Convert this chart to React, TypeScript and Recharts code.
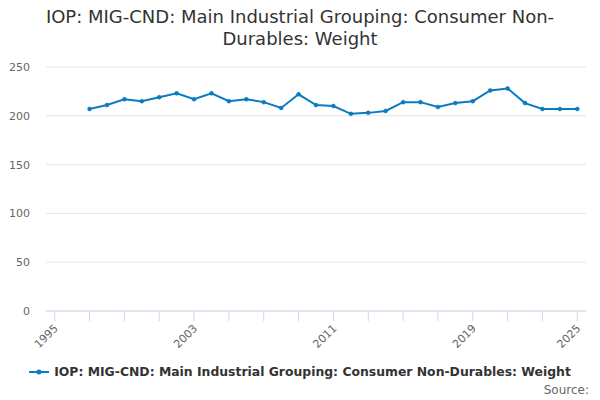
import React from 'react';
import { LineChart, Line, XAxis, YAxis, CartesianGrid } from 'recharts';

const years = [
  1997, 1998, 1999, 2000, 2001, 2002, 2003, 2004, 2005, 2006, 2007, 2008, 2009, 2010, 2011,
  2012, 2013, 2014, 2015, 2016, 2017, 2018, 2019, 2020, 2021, 2022, 2023, 2024, 2025,
];
const weights = [
  207, 211, 217, 215, 219, 223, 217, 223, 215, 217, 214, 208, 222, 211, 210,
  202, 203, 205, 214, 214, 209, 213, 215, 226, 228, 213, 207, 207, 207,
];
const xTicks = [1995, 1997, 1999, 2001, 2003, 2005, 2007, 2009, 2011, 2013, 2015, 2017, 2019, 2021, 2023, 2025];
const xLabels = [1995, 2003, 2011, 2019, 2025];
const yTicks = [0, 50, 100, 150, 200, 250];

const seriesName = 'IOP: MIG-CND: Main Industrial Grouping: Consumer Non-Durables: Weight';
const lineColor = '#0b7bc1';
const font = '"DejaVu Sans", sans-serif';

const data = years.map((year, i) => ({ year, value: weights[i] }));

const XTick = (props: any) => {
  const { x, y, payload } = props;
  return (
    <g>
      <line x1={x} y1={y - 8} x2={x} y2={y + 2} stroke="#ccd6eb" strokeWidth={1} />
      {xLabels.includes(payload.value) && (
        <text
          x={x + 4}
          y={y + 10}
          textAnchor="end"
          transform={`rotate(-45 ${x + 4} ${y + 10})`}
          fill="#666666"
          fontSize={11}
          fontFamily={font}
        >
          {payload.value}
        </text>
      )}
    </g>
  );
};

const App: React.FC = () => {
  return (
    <div style={{ position: 'absolute', left: 0, top: 0, width: 600, height: 400, background: '#fff' }}>
      <div
        style={{
          position: 'absolute',
          top: 6,
          left: 40,
          width: 520,
          textAlign: 'center',
          fontFamily: font,
          fontSize: 18,
          lineHeight: '22px',
          color: '#333333',
        }}
      >
        {seriesName.replace('Non-Durables', 'Non-\u200BDurables')}
      </div>
      <LineChart width={600} height={400} data={data} margin={{ top: 67, right: 14, bottom: 0, left: 0 }}>
        <CartesianGrid vertical={false} stroke="#e6e6e6" />
        <XAxis
          dataKey="year"
          type="number"
          domain={[1994.5, 2025.5]}
          ticks={xTicks}
          interval={0}
          axisLine={{ stroke: '#ccd6eb' }}
          tickLine={false}
          tick={<XTick />}
          height={89}
        />
        <YAxis
          domain={[0, 250]}
          ticks={yTicks}
          axisLine={false}
          tickLine={false}
          width={46}
          tick={{ fill: '#666666', fontSize: 11, fontFamily: font }}
          dx={-8}
        />
        <Line
          type="linear"
          dataKey="value"
          name={seriesName}
          stroke={lineColor}
          strokeWidth={2}
          dot={{ r: 2, fill: lineColor, stroke: lineColor, strokeWidth: 0.5 }}
          isAnimationActive={false}
        />
      </LineChart>
      <div
        style={{
          position: 'absolute',
          top: 364,
          left: 0,
          width: 600,
          display: 'flex',
          alignItems: 'center',
          justifyContent: 'center',
          fontFamily: font,
        }}
      >
        <svg width={20} height={12} style={{ marginRight: 5 }}>
          <line x1={0} y1={6} x2={20} y2={6} stroke={lineColor} strokeWidth={2} />
          <circle cx={10} cy={6} r={2.5} fill={lineColor} />
        </svg>
        <span style={{ fontSize: 12.4, fontWeight: 'bold', color: '#333333' }}>{seriesName}</span>
      </div>
      <div
        style={{
          position: 'absolute',
          right: 11,
          top: 383,
          fontFamily: font,
          fontSize: 12,
          color: '#666666',
        }}
      >
        Source:
      </div>
    </div>
  );
};

export default App;
